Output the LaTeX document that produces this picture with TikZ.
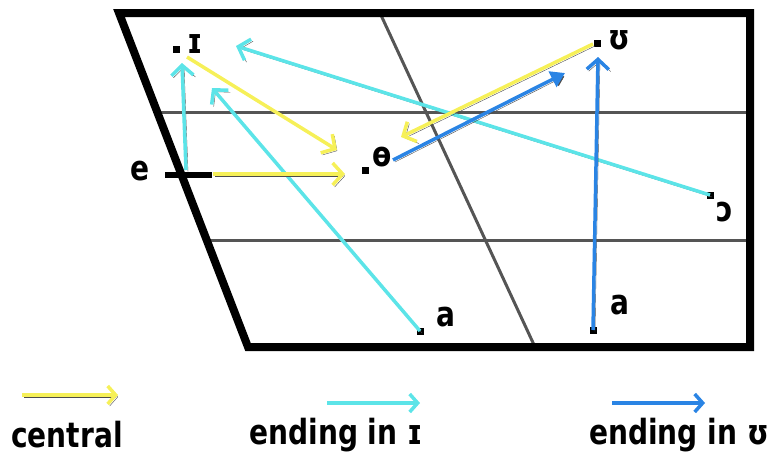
\documentclass[tikz,border=0pt]{standalone}
\usepackage{fontspec}
\usepackage{graphicx}
\setmainfont{DejaVu Sans}
\usetikzlibrary{arrows.meta}
\definecolor{yel}{RGB}{246,240,88}
\definecolor{cya}{RGB}{92,228,232}
\definecolor{blu}{RGB}{42,132,228}
\definecolor{gridgray}{RGB}{85,85,85}
\newcommand{\lbtxt}[1]{\scalebox{0.85}[1.05]{\bfseries #1}}
\tikzset{
  frame/.style={line width=8pt, line join=miter},
  gridline/.style={gridgray, line width=3pt},
  dot/.style={rectangle, fill=black, minimum size=7pt, inner sep=0pt},
  lbl/.style={inner sep=0pt, font=\fontsize{33}{40}\selectfont},
  shadowed/.style={preaction={draw=black!70, transform canvas={xshift=2pt,yshift=-2pt}}},
  arr/.style={line width=3.5pt, -{Straight Barb[length=10pt,width=22pt]}, shadowed},
  blobarr/.style={line width=3.5pt, -{Triangle[length=14pt,width=17pt]}, shadowed},
  legarr/.style={line width=3.5pt, -{Straight Barb[length=8pt,width=18pt]}},
}
\begin{document}
\begin{tikzpicture}[x=1pt,y=-1pt]
\useasboundingbox (0,0) rectangle (779,466);
% frame corners
\coordinate (TL) at (119,13);
\coordinate (TR) at (750,13);
\coordinate (BR) at (750,347);
\coordinate (BL) at (248,347);
% grid
\coordinate (h1L) at (157,112);
\coordinate (h1R) at (750,112);
\coordinate (h2L) at (207,240);
\coordinate (h2R) at (750,240);
\coordinate (dT) at (380,13);
\coordinate (dB) at (535,347);
\draw[gridline] (h1L) -- (h1R);
\draw[gridline] (h2L) -- (h2R);
\draw[gridline] (dT) -- (dB);
\draw[frame] (TL) -- (TR) -- (BR) -- (BL) -- cycle;
% vowel points
\node[dot] (I) at (176,49) {};
\node[dot] (Th) at (365,170) {};
\node[dot] (U) at (597,43) {};
\node[dot] (O) at (710,195) {};
\node[dot] (aL) at (420,331) {};
\node[dot] (aR) at (593,330) {};
\coordinate (eL) at (165,175);
\coordinate (eR) at (212,175);
\draw[line width=6pt] (eL) -- (eR);
% labels
\node[lbl] (lI) at (195,44) {\lbtxt{ɪ}};
\node[lbl] (lTh) at (382,157) {\lbtxt{ɵ}};
\node[lbl] (lU) at (619,40) {\lbtxt{ʊ}};
\node[lbl] (lO) at (725,212) {\lbtxt{ɔ}};
\node[lbl] (laL) at (446,317) {\lbtxt{a}};
\node[lbl] (laR) at (620,305) {\lbtxt{a}};
\node[lbl] (le) at (140,171) {\lbtxt{e}};
% arrow ends
\coordinate (ys1) at (187,57);
\coordinate (yt1) at (337,150);
\coordinate (ys2) at (213,174);
\coordinate (yt2) at (345,174);
\coordinate (ys3) at (593,44);
\coordinate (yt3) at (401,137);
\coordinate (cs1) at (186,170);
\coordinate (ct1) at (182,63);
\coordinate (ct2) at (212,88);
\coordinate (ct3) at (236,46);
\coordinate (bs1) at (393,160);
\coordinate (bt1) at (565,73);
\coordinate (bt2) at (598,57);
% cyan: ending in I
\draw[arr, cya] (cs1) -- (ct1);
\draw[arr, cya] (aL.center) -- (ct2);
\draw[arr, cya] (O.center) -- (ct3);
% yellow: central
\draw[arr, yel] (ys1) -- (yt1);
\draw[arr, yel] (ys2) -- (yt2);
\draw[arr, yel] (ys3) -- (yt3);
% blue: ending in U
\draw[blobarr, blu] (bs1) -- (bt1);
\draw[arr, blu] (aR.center) -- (bt2);
% legend
\coordinate (lyS) at (22,395);
\coordinate (lyE) at (118,395);
\coordinate (lcS) at (327,403);
\coordinate (lcE) at (420,403);
\coordinate (lbS) at (612,403);
\coordinate (lbE) at (705,403);
\draw[legarr, yel, shadowed] (lyS) -- (lyE);
\draw[legarr, cya] (lcS) -- (lcE);
\draw[legarr, blu] (lbS) -- (lbE);
\node[lbl] (t1) at (67,435) {\lbtxt{central}};
\node[lbl] (t2) at (336,435) {\lbtxt{ending in ɪ}};
\node[lbl] (t3) at (679,435) {\lbtxt{ending in ʊ}};
\end{tikzpicture}
\end{document}
